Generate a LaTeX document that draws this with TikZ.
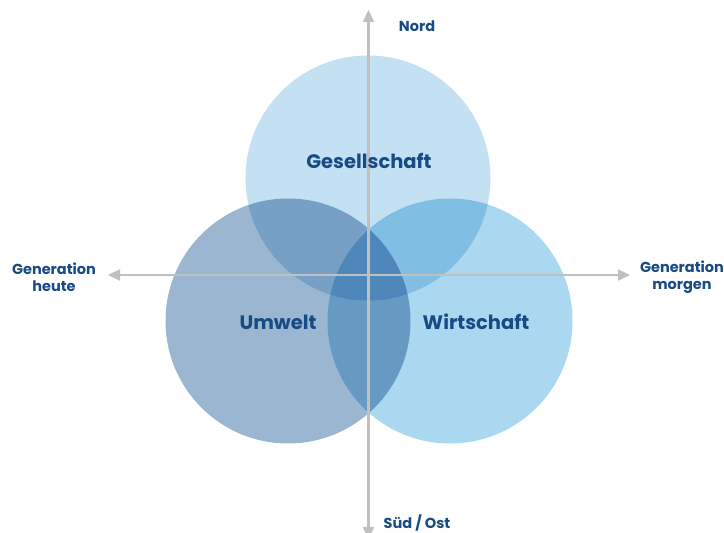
\documentclass[tikz,border=0pt]{standalone}
\usepackage{fontspec}
\setmainfont{Poppins}
\usepackage{tikz}
\usetikzlibrary{positioning, arrows.meta}

\definecolor{dunkelblau}{RGB}{24,74,132}
\definecolor{hellblau}{RGB}{196,225,243}
\definecolor{graublau}{RGB}{154,182,208}
\definecolor{himmelblau}{RGB}{169,216,240}
\definecolor{achsgrau}{RGB}{192,192,192}

\begin{document}
\begin{tikzpicture}[x=1pt, y=1pt]
\tikzstyle{kreis} = [circle, minimum size=245pt, inner sep=0pt]
\tikzstyle{achse} = [{Triangle[length=12pt, width=11pt]}-{Triangle[length=12pt, width=11pt]}, draw=achsgrau, line width=2.2pt]
\tikzstyle{titel} = [font=\fontsize{19.5}{23}\selectfont\bfseries, text=dunkelblau]
\tikzstyle{beschriftung} = [font=\fontsize{14.5}{17}\selectfont\bfseries, text=dunkelblau, align=center, inner sep=1pt]

\useasboundingbox (0,0) rectangle (724,533);

% Kreise
\begin{scope}[blend mode=multiply]
\node[kreis, fill=hellblau] (ges) at (368,355) {};
\node[kreis, fill=graublau] (umw) at (288,212) {};
\node[kreis, fill=himmelblau] (wirt) at (450,212) {};
\end{scope}

% Achsen
\coordinate (oben) at (368.5,523);
\coordinate (unten) at (368.5,-6);
\coordinate (links) at (108,258);
\coordinate (rechts) at (630,258);
\draw[achse] (unten) -- (oben);
\draw[achse] (links) -- (rechts);

% Beschriftungen
\node[titel] (tges) at (369,372) {Gesellschaft};
\node[titel] (tumw) at (278,211) {Umwelt};
\node[titel] (twirt) at (476,211) {Wirtschaft};
\node[beschriftung] (nord) at (417,507) {Nord};
\node[beschriftung] (sued) at (417,10) {Süd / Ost};
\node[beschriftung] (heute) at (54,256) {Generation\\heute};
\node[beschriftung] (morgen) at (682,256) {Generation\\morgen};

\end{tikzpicture}
\end{document}
